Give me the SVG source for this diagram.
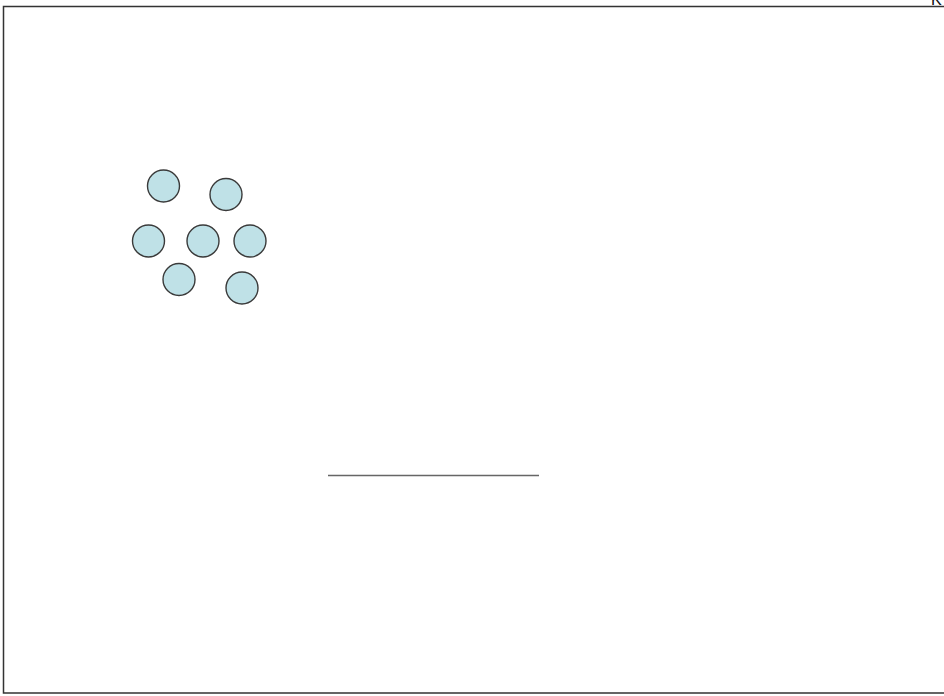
<svg xmlns="http://www.w3.org/2000/svg" width="944" height="696" viewBox="0 0 944 696">
<style>
.n{fill:#bfe1e7;stroke:#3a3a3a;stroke-width:1.4}
.frame{fill:none;stroke:#333;stroke-width:1.5}
</style>
<rect width="944" height="696" fill="#fff"/>
<path class="frame" d="M950,6.5 H3.5 V693 H950"/>
<text x="931" y="5" font-family="Liberation Sans, sans-serif" font-size="16" fill="#111">K</text>
<g id="connectors">
<line x1="328" y1="475.5" x2="539" y2="475.5" stroke="#666" stroke-width="1.5"/>
</g>
<g id="n1"><circle class="n" cx="163.5" cy="186" r="16"/></g>
<g id="n2"><circle class="n" cx="226" cy="194.5" r="16"/></g>
<g id="n3"><circle class="n" cx="148.5" cy="241" r="16"/></g>
<g id="n4"><circle class="n" cx="203" cy="241" r="16"/></g>
<g id="n5"><circle class="n" cx="250" cy="241" r="16"/></g>
<g id="n6"><circle class="n" cx="179" cy="279.5" r="16"/></g>
<g id="n7"><circle class="n" cx="242" cy="288" r="16"/></g>
</svg>
